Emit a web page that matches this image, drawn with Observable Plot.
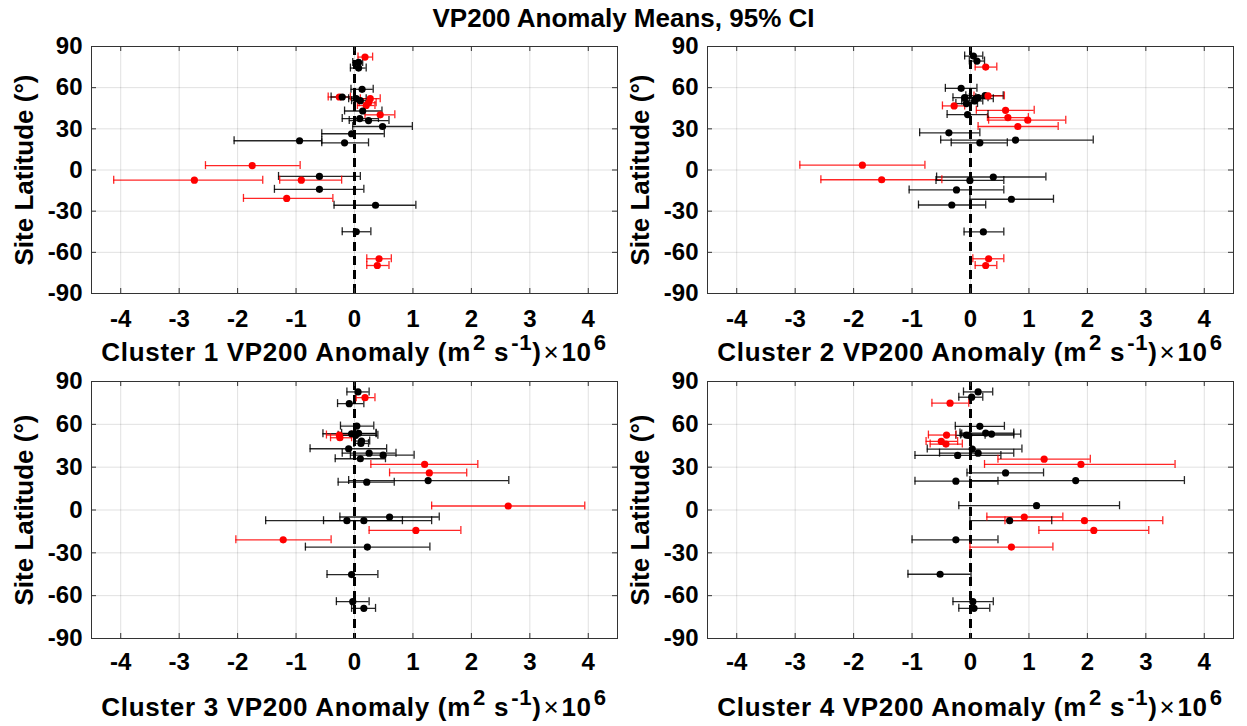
<!DOCTYPE html>
<html>
<head>
<meta charset="utf-8">
<script src="https://cdn.jsdelivr.net/npm/d3@7"></script>
<script src="https://cdn.jsdelivr.net/npm/@observablehq/plot@0.6"></script>
<style>
  body { margin: 0; background: #fff; }
  #root { position: relative; width: 1247px; height: 726px; overflow: hidden; background: #fff;
          font-family: "Liberation Sans", Arial, sans-serif; font-weight: bold; color: #000; }
  .title { position: absolute; left: 0; width: 1247px; top: 5px; text-align: center; font-size: 26px; line-height: 26px; }
  .xlab { position: absolute; font-size: 26px; line-height: 26px; white-space: nowrap; transform: translateX(-50%); letter-spacing: 0.7px; }
  .xlab sup { font-size: 0.85em; line-height: 0; vertical-align: 0.5em; padding-left: 2px; }
  .xlab .times { font-weight: normal; padding: 0 2px; }
  .ylab { position: absolute; font-size: 26px; line-height: 26px; white-space: nowrap; transform: translate(-50%, -50%) rotate(-90deg); }
  .panel { position: absolute; }
</style>
</head>
<body>
<div id="root">
  <div class="title">VP200 Anomaly Means, 95% CI</div>
</div>
<script>
// ---------- data ----------
const xTicks = [-4, -3, -2, -1, 0, 1, 2, 3, 4];
const xTickLabels = ["-4", "-3", "-2", "-1", "0", "1", "2", "3", "4"];
const yTicks = [-90, -60, -30, 0, 30, 60, 90];
const yTickLabels = ["-90", "-60", "-30", "0", "30", "60", "90"];
const clusterNames = ["Cluster 1", "Cluster 2", "Cluster 3", "Cluster 4"];
const yLabel = "Site Latitude (°)";

// Cluster 1
const c1Lat  = [82.3, 78.4, 74.3, 58.8, 53.2, 53.2, 52.0, 50.5, 52.0, 49.0, 47.0, 43.0, 40.2, 37.5, 36.0, 31.7, 26.4, 21.3, 19.8, 3.2, -4.7, -7.4, -7.4, -14.1, -20.7, -25.7, -45.0, -64.7, -69.6];
const c1Mean = [0.18, 0.07, 0.07, 0.13, -0.26, -0.21, 0.03, 0.10, 0.27, 0.24, 0.20, 0.14, 0.44, 0.09, 0.24, 0.48, -0.05, -0.94, -0.17, -1.75, -0.60, -2.74, -0.91, -0.60, -1.16, 0.36, 0.03, 0.42, 0.39];
const c1Lo   = [0.06, -0.03, -0.07, -0.06, -0.45, -0.40, -0.10, -0.05, 0.10, 0.08, 0.05, -0.17, 0.18, -0.21, -0.09, -0.03, -0.56, -2.06, -0.56, -2.55, -1.30, -4.12, -1.28, -1.37, -1.90, -0.35, -0.21, 0.21, 0.21];
const c1Hi   = [0.31, 0.14, 0.20, 0.32, -0.07, 0.00, 0.20, 0.25, 0.44, 0.37, 0.35, 0.47, 0.69, 0.41, 0.59, 0.99, 0.51, -0.56, 0.24, -0.93, 0.10, -1.57, -0.22, 0.16, -0.37, 1.05, 0.28, 0.63, 0.59];
const c1Sig  = [1, 0, 0, 0, 1, 0, 0, 0, 1, 1, 1, 0, 1, 0, 0, 0, 0, 0, 0, 1, 0, 1, 1, 0, 1, 0, 0, 1, 1];

// Cluster 2
const c2Lat  = [83.0, 79.4, 75.0, 59.5, 54.2, 54.0, 52.7, 52.0, 52.7, 50.3, 48.4, 46.7, 43.5, 40.4, 38.2, 36.3, 31.7, 27.1, 21.8, 19.8, 3.5, -5.1, -7.1, -7.6, -14.5, -21.3, -25.5, -45.1, -64.7, -69.6];
const c2Mean = [0.05, 0.11, 0.26, -0.16, 0.25, 0.30, -0.10, 0.09, 0.13, 0.07, -0.07, -0.28, 0.60, -0.05, 0.64, 0.98, 0.81, -0.37, 0.77, 0.16, -1.85, 0.39, -1.52, -0.01, -0.24, 0.70, -0.32, 0.22, 0.31, 0.26];
const c2Lo   = [-0.10, -0.02, 0.08, -0.43, -0.08, 0.06, -0.30, -0.06, -0.02, -0.15, -0.25, -0.48, 0.10, -0.40, 0.29, 0.31, 0.13, -0.87, -0.51, -0.33, -2.92, -0.58, -2.56, -0.59, -1.05, -0.01, -0.89, -0.11, 0.04, 0.08];
const c2Hi   = [0.21, 0.24, 0.45, 0.11, 0.56, 0.58, 0.09, 0.39, 0.30, 0.21, 0.12, -0.10, 1.09, 0.30, 0.99, 1.63, 1.50, 0.16, 2.10, 0.63, -0.78, 1.29, -0.49, 0.57, 0.57, 1.42, 0.26, 0.57, 0.57, 0.45];
const c2Sig  = [0, 0, 1, 0, 0, 1, 0, 0, 0, 0, 0, 1, 1, 0, 1, 1, 1, 0, 0, 0, 1, 0, 1, 0, 0, 0, 0, 0, 1, 1];

// Cluster 3
const c3Lat  = [82.7, 78.7, 74.5, 58.8, 53.7, 53.4, 52.5, 50.6, 52.3, 48.3, 46.6, 42.9, 39.8, 38.4, 35.9, 31.9, 26.0, 20.6, 19.5, 2.8, -4.9, -7.5, -7.5, -14.3, -20.9, -26.0, -45.2, -64.2, -68.9];
const c3Mean = [0.06, 0.18, -0.09, 0.04, 0.07, -0.05, -0.26, -0.25, 0.02, 0.12, 0.11, -0.10, 0.25, 0.49, 0.10, 1.20, 1.28, 1.26, 0.21, 2.63, 0.60, -0.13, 0.16, 1.05, -1.22, 0.22, -0.05, -0.03, 0.16];
const c3Lo   = [-0.13, 0.03, -0.29, -0.24, -0.22, -0.54, -0.48, -0.41, -0.28, -0.01, -0.01, -0.76, -0.21, -0.07, -0.33, 0.28, 0.60, -0.10, -0.28, 1.32, -0.25, -1.52, -0.53, 0.25, -2.03, -0.84, -0.47, -0.31, -0.05];
const c3Hi   = [0.25, 0.35, 0.16, 0.33, 0.37, 0.37, -0.05, -0.05, 0.40, 0.26, 0.24, 0.55, 0.71, 1.02, 0.53, 2.11, 1.92, 2.64, 0.68, 3.94, 1.45, 1.32, 0.82, 1.82, -0.40, 1.29, 0.40, 0.25, 0.36];
const c3Sig  = [0, 1, 0, 0, 0, 0, 1, 1, 0, 0, 0, 0, 0, 0, 0, 1, 1, 0, 0, 1, 0, 0, 0, 1, 1, 0, 0, 0, 0];

// Cluster 4
const c4Lat  = [82.7, 79.0, 74.8, 58.6, 53.9, 53.2, 52.5, 52.3, 52.5, 48.0, 46.2, 42.7, 39.8, 38.2, 35.6, 31.9, 26.0, 20.2, 20.6, 3.0, -4.9, -7.5, -7.5, -14.3, -20.9, -26.0, -45.0, -64.2, -68.9];
const c4Mean = [0.13, 0.02, -0.35, 0.16, 0.26, 0.36, -0.41, -0.03, -0.07, -0.50, -0.42, 0.03, 0.13, -0.22, 1.26, 1.89, 0.60, -0.25, 1.80, 1.13, 0.92, 0.67, 1.95, 2.11, -0.25, 0.70, -0.52, 0.04, 0.06];
const c4Lo   = [-0.12, -0.20, -0.66, -0.26, -0.18, -0.15, -0.72, -0.25, -0.17, -0.76, -0.69, -0.74, -0.53, -0.95, 0.47, 0.24, -0.06, -0.95, -0.01, -0.20, 0.28, -0.01, 0.59, 1.17, -1.00, -0.01, -1.07, -0.30, -0.20];
const c4Hi   = [0.38, 0.21, -0.03, 0.58, 0.74, 0.86, -0.25, 0.25, 0.74, -0.22, -0.14, 0.88, 0.74, 0.52, 2.05, 3.50, 1.25, 0.47, 3.66, 2.55, 1.58, 1.39, 3.29, 3.05, 0.47, 1.41, 0.01, 0.39, 0.33];
const c4Sig  = [0, 0, 1, 0, 0, 0, 1, 0, 0, 1, 1, 0, 0, 0, 1, 1, 0, 0, 0, 0, 1, 0, 1, 1, 0, 1, 0, 0, 0];

// ---------- layout ----------
const root = document.getElementById("root");
const FONT = '"Liberation Sans", Arial, sans-serif';

const panels = [
  {name: clusterNames[0], lat: c1Lat, mean: c1Mean, lo: c1Lo, hi: c1Hi, sig: c1Sig, left: 0,   top: 30,  fh: 247, pad: 16, lab: 46},
  {name: clusterNames[1], lat: c2Lat, mean: c2Mean, lo: c2Lo, hi: c2Hi, sig: c2Sig, left: 616, top: 30,  fh: 247, pad: 16, lab: 46},
  {name: clusterNames[2], lat: c3Lat, mean: c3Mean, lo: c3Lo, hi: c3Hi, sig: c3Sig, left: 0,   top: 365, fh: 257, pad: 14, lab: 56},
  {name: clusterNames[3], lat: c4Lat, mean: c4Mean, lo: c4Lo, hi: c4Hi, sig: c4Sig, left: 616, top: 365, fh: 257, pad: 14, lab: 56}
];

const W = 623, ML = 91, MR = 6, MT = 16, MB = 50;
const fw = W - ML - MR;

for (const p of panels) {
  const rows = p.lat.map((y, i) => ({
    lat: y, mean: p.mean[i], lo: p.lo[i], hi: p.hi[i],
    c: p.sig[i] ? "#ff0000" : "#000000"
  }));
  const H = MT + p.fh + MB;
  const chart = Plot.plot({
    width: W, height: H,
    marginLeft: ML, marginRight: MR, marginTop: MT, marginBottom: MB,
    x: {domain: [-4.5, 4.5]},
    y: {domain: [-90, 90]},
    color: {type: "identity"},
    style: {fontFamily: FONT, fontSize: "24px", fontWeight: "bold", background: "transparent", overflow: "visible", color: "#000"},
    marks: [
      Plot.gridX(xTicks, {stroke: "#000", strokeOpacity: 0.12}),
      Plot.gridY(yTicks, {stroke: "#000", strokeOpacity: 0.12}),
      Plot.ruleX([0], {stroke: "#000", strokeWidth: 3, strokeDasharray: "9,5"}),
      Plot.ruleY(rows, {y: "lat", x1: "lo", x2: "hi", stroke: "c", strokeWidth: 1.3, strokeOpacity: 0.85}),
      Plot.ruleX(rows, {x: "lo", y1: "lat", y2: "lat", insetTop: -4, insetBottom: -4, stroke: "c", strokeWidth: 1.3, strokeOpacity: 0.85}),
      Plot.ruleX(rows, {x: "hi", y1: "lat", y2: "lat", insetTop: -4, insetBottom: -4, stroke: "c", strokeWidth: 1.3, strokeOpacity: 0.85}),
      Plot.dot(rows, {x: "mean", y: "lat", r: 3.6, fill: "c", stroke: null}),
      Plot.frame({stroke: "#333", strokeWidth: 1}),
      Plot.tickX(xTicks, {x: d => d, insetTop: p.fh - 5, stroke: "#333"}),
      Plot.tickX(xTicks, {x: d => d, insetBottom: p.fh - 5, stroke: "#333"}),
      Plot.tickY(yTicks, {y: d => d, insetRight: fw - 5, stroke: "#333"}),
      Plot.tickY(yTicks, {y: d => d, insetLeft: fw - 5, stroke: "#333"}),
      Plot.axisX(xTicks, {tickSize: 0, tickPadding: p.pad, label: null, fill: "#000",
        tickFormat: d => xTickLabels[xTicks.indexOf(d)]}),
      Plot.axisY(yTicks, {tickSize: 0, tickPadding: 9, label: null, fill: "#000",
        tickFormat: d => yTickLabels[yTicks.indexOf(d)]})
    ]
  });
  chart.classList.add("panel");
  chart.style.left = p.left + "px";
  chart.style.top = p.top + "px";
  root.appendChild(chart);

  // x-axis label (below the plot)
  const xl = document.createElement("div");
  xl.className = "xlab";
  xl.innerHTML = `${p.name} VP200 Anomaly (m<sup>2</sup> s<sup>-1</sup>)<span class="times">×</span>10<sup>6</sup>`;
  xl.style.left = (p.left + ML + fw / 2) + "px";
  xl.style.top = (p.top + MT + p.fh + p.lab) + "px";
  root.appendChild(xl);

  // y-axis label
  const yl = document.createElement("div");
  yl.className = "ylab";
  yl.textContent = yLabel;
  yl.style.left = (p.left + 24) + "px";
  yl.style.top = (p.top + MT + p.fh / 2) + "px";
  root.appendChild(yl);
}
</script>
</body>
</html>
